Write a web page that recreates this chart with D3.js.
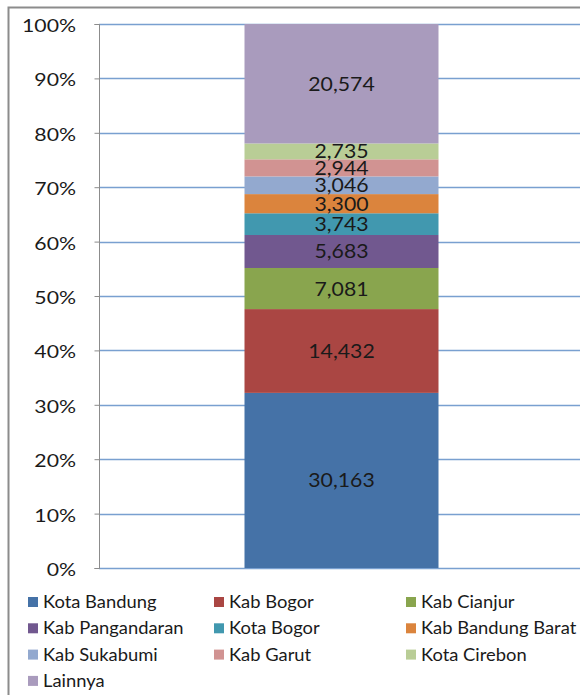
<!DOCTYPE html>
<html>
<head>
<meta charset="utf-8">
<script src="https://cdn.jsdelivr.net/npm/d3@7"></script>
<style>
  body { margin: 0; background: #fff; }
  text { font-family: Lato, "Open Sans", sans-serif; }
</style>
</head>
<body>
<div id="chart"></div>
<script>
// series, bottom to top
var regions = ["Kota Bandung", "Kab Bogor", "Kab Cianjur", "Kab Pangandaran", "Kota Bogor",
               "Kab Bandung Barat", "Kab Sukabumi", "Kab Garut", "Kota Cirebon", "Lainnya"];
var counts = [30163, 14432, 7081, 5683, 3743, 3300, 3046, 2944, 2735, 20574];
var colors = ["#4572A7", "#AA4643", "#89A54E", "#71588F", "#4198AF",
              "#DB843D", "#93A9CF", "#D19392", "#B9CD96", "#A99BBD"];
var yTicks = [0, 0.1, 0.2, 0.3, 0.4, 0.5, 0.6, 0.7, 0.8, 0.9, 1];

var width = 580, height = 695;
var plot = {left: 99, top: 24, right: 584, bottom: 568};

var svg = d3.select("#chart").append("svg")
    .attr("width", width)
    .attr("height", height);

// outer chart border
svg.append("path")
    .attr("d", "M8.5," + height + " V7.5 H" + width)
    .attr("fill", "none")
    .attr("stroke", "#8c8c8c")
    .attr("stroke-width", 2);

var x = d3.scaleBand().domain(["all"]).range([plot.left, plot.right]).paddingInner(0).paddingOuter(0.75);
var y = d3.scaleLinear().domain([0, 1]).range([plot.bottom, plot.top]);

var total = d3.sum(counts);
var stack = [];
var acc = 0;
counts.forEach(function(c, i) {
  stack.push({name: regions[i], value: c, y0: acc / total, y1: (acc + c) / total, color: colors[i]});
  acc += c;
});

// gridlines
svg.append("g").selectAll("line")
    .data(yTicks)
    .enter().append("line")
    .attr("x1", plot.left).attr("x2", plot.right)
    .attr("y1", function(d) { return Math.round(y(d)) + 0.5; })
    .attr("y2", function(d) { return Math.round(y(d)) + 0.5; })
    .attr("stroke", "#79A0D0")
    .attr("stroke-width", 1.3);

// y axis
var yAxis = d3.axisLeft(y).tickValues(yTicks).tickFormat(d3.format(".0%")).tickSize(5);
var ga = svg.append("g").attr("transform", "translate(" + (plot.left + 0.5) + ",0)").call(yAxis);
ga.select(".domain").attr("stroke", "#8c8c8c").attr("d", "M-5," + (plot.top + 0.5) + "H0V" + (plot.bottom + 0.5) + "H-5");
ga.selectAll(".tick line").attr("stroke", "#8c8c8c");
// text is a bit wider than the fonts we have, so stretch it
ga.selectAll(".tick text")
    .attr("x", 0).attr("dy", null).attr("y", 0)
    .attr("transform", "translate(-23.5,7.5) scale(1.25,1)")
    .attr("font-size", 17).attr("fill", "#1a1a1a")
    .style("font-family", "Lato, 'Open Sans', sans-serif");

// bars
svg.append("g").selectAll("rect")
    .data(stack)
    .enter().append("rect")
    .attr("x", x("all"))
    .attr("width", x.bandwidth())
    .attr("y", function(d) { return y(d.y1); })
    .attr("height", function(d) { return y(d.y0) - y(d.y1); })
    .attr("fill", function(d) { return d.color; });

// data labels
svg.append("g").selectAll("text")
    .data(stack)
    .enter().append("text")
    .attr("transform", function(d) {
      return "translate(" + (x("all") + x.bandwidth() / 2) + "," + ((y(d.y0) + y(d.y1)) / 2 + 7) + ") scale(1.09,1)";
    })
    .attr("text-anchor", "middle")
    .attr("font-size", 19.5)
    .attr("fill", "#1a1a1a")
    .text(function(d) { return d3.format(",")(d.value); });

// legend
var legCols = [28, 214, 406];
var legend = svg.append("g").selectAll("g")
    .data(stack)
    .enter().append("g")
    .attr("transform", function(d, i) {
      return "translate(" + legCols[i % 3] + "," + (608 + Math.floor(i / 3) * 26.3) + ")";
    });
legend.append("rect")
    .attr("x", 0).attr("y", -11)
    .attr("width", 10).attr("height", 10)
    .attr("fill", function(d) { return d.color; });
legend.append("text")
    .attr("transform", "translate(15,0) scale(1.08,1)")
    .attr("font-size", 17)
    .attr("fill", "#1a1a1a")
    .text(function(d) { return d.name; });
</script>
</body>
</html>
